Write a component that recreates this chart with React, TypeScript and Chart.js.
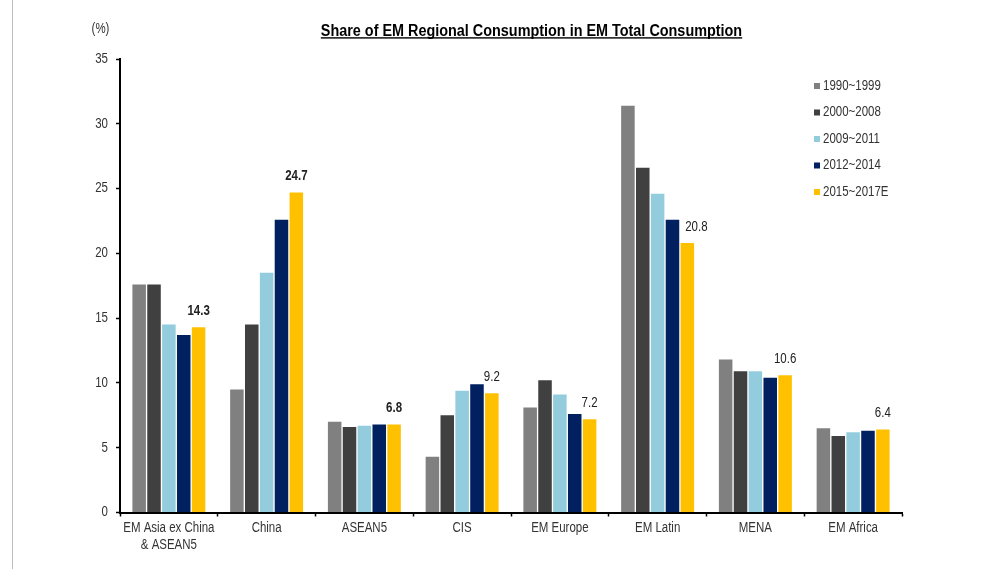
import { useEffect, useRef } from "react";
import { Chart, registerables } from "chart.js";

Chart.register(...registerables);

// Regions along the x axis
const categories: (string | string[])[] = [
  ["EM Asia ex China", "& ASEAN5"],
  "China",
  "ASEAN5",
  "CIS",
  "EM Europe",
  "EM Latin",
  "MENA",
  "EM Africa",
];

// Share of EM total consumption (%) by period
const share1990to1999 = [17.6, 9.5, 7.0, 4.3, 8.1, 31.4, 11.8, 6.5];
const share2000to2008 = [17.6, 14.5, 6.6, 7.5, 10.2, 26.6, 10.9, 5.9];
const share2009to2011 = [14.5, 18.5, 6.7, 9.4, 9.1, 24.6, 10.9, 6.2];
const share2012to2014 = [13.7, 22.6, 6.8, 9.9, 7.6, 22.6, 10.4, 6.3];
const share2015to2017E = [14.3, 24.7, 6.8, 9.2, 7.2, 20.8, 10.6, 6.4];

const periodLabels = ["1990~1999", "2000~2008", "2009~2011", "2012~2014", "2015~2017E"];
const periodColors = ["#808080", "#404040", "#93CDDD", "#002060", "#FFC000"];

// Regions whose latest value is printed in bold
const boldLabelCount = 3;

const yMin = 0;
const yMax = 35;
const yStep = 5;

const titleText = "Share of EM Regional Consumption in EM Total Consumption";
const unitText = "(%)";

// Arial-metric face, squeezed horizontally to a narrow cut
const FONT = "'Liberation Sans', Arial, sans-serif";
const NARROW = 0.82;
const TITLE_NARROW = 0.9;
const TEXT = "#333333";

function narrowText(
  ctx: CanvasRenderingContext2D,
  text: string,
  x: number,
  y: number,
  align: CanvasTextAlign,
  baseline: CanvasTextBaseline,
  font: string,
  color: string,
  squeeze: number = NARROW
) {
  ctx.save();
  ctx.font = font;
  ctx.fillStyle = color;
  ctx.textAlign = align;
  ctx.textBaseline = baseline;
  ctx.translate(x, y);
  ctx.scale(squeeze, 1);
  ctx.fillText(text, 0, 0);
  const w = ctx.measureText(text).width * squeeze;
  ctx.restore();
  return w;
}

const decorations = {
  id: "decorations",
  afterDraw(chart: Chart) {
    const ctx = chart.ctx;
    const xScale: any = chart.scales.x;
    const yScale: any = chart.scales.y;
    ctx.save();

    // page edge rule
    ctx.fillStyle = "#bdbdbd";
    ctx.fillRect(12, 0, 1, chart.height);

    // title with underline
    const tx = 531.5;
    const ty = 35.5;
    const tw = narrowText(ctx, titleText, tx, ty, "center", "alphabetic", `bold 16px ${FONT}`, "#000", TITLE_NARROW);
    ctx.fillStyle = "#000";
    ctx.fillRect(tx - tw / 2, ty + 1.7, tw, 1.4);

    // unit label
    narrowText(ctx, unitText, 100.5, 29, "center", "middle", `14px ${FONT}`, TEXT);

    // y tick labels
    yScale.ticks.forEach((t: any) => {
      const y = yScale.getPixelForValue(t.value);
      narrowText(ctx, String(t.value), yScale.right - 12, y, "right", "middle", `14px ${FONT}`, TEXT);
    });

    // category labels
    (chart.data.labels as (string | string[])[]).forEach((lab, i) => {
      const x = xScale.getPixelForTick(i);
      const lines = Array.isArray(lab) ? lab : [lab];
      lines.forEach((line, j) => {
        narrowText(ctx, line, x, 521.5 + j * 16.5, "center", "top", `14px ${FONT}`, TEXT);
      });
    });

    // legend
    const lx = 814;
    const ly = 86;
    const rowGap = 26.5;
    chart.data.datasets.forEach((ds, i) => {
      const y = ly + i * rowGap;
      ctx.fillStyle = ds.backgroundColor as string;
      ctx.fillRect(lx, y - 3, 6, 6);
      narrowText(ctx, ds.label as string, lx + 9, y, "left", "middle", `14px ${FONT}`, TEXT);
    });

    // value labels on the latest period
    const last = chart.data.datasets.length - 1;
    const meta = chart.getDatasetMeta(last);
    const values = chart.data.datasets[last].data as number[];
    const shiftX: Record<number, number> = { 5: 9 };
    meta.data.forEach((el: any, i: number) => {
      const font = `${i < boldLabelCount ? "bold " : ""}14px ${FONT}`;
      narrowText(ctx, values[i].toFixed(1), el.x + (shiftX[i] || 0), el.y - 16, "center", "middle", font, "#222");
    });

    ctx.restore();
  },
};

export default function App() {
  const canvasRef = useRef<HTMLCanvasElement | null>(null);

  useEffect(() => {
    if (!canvasRef.current) return;
    const series = [share1990to1999, share2000to2008, share2009to2011, share2012to2014, share2015to2017E];
    const chart = new Chart(canvasRef.current, {
      type: "bar",
      data: {
        labels: categories,
        datasets: series.map((data, i) => ({
          label: periodLabels[i],
          data,
          backgroundColor: periodColors[i],
          borderWidth: 0,
          categoryPercentage: 0.76,
          barPercentage: 0.91,
        })),
      },
      options: {
        responsive: false,
        animation: false,
        layout: { padding: { top: 59, right: 98, left: 0, bottom: 0 } },
        plugins: {
          legend: { display: false },
          title: { display: false },
          tooltip: { enabled: false },
        },
        scales: {
          x: {
            grid: {
              display: true,
              drawOnChartArea: false,
              drawTicks: true,
              tickLength: 4,
              tickColor: "#000",
              tickWidth: 1.5,
              offset: true,
            },
            border: { display: true, color: "#000", width: 2 },
            ticks: { display: false, autoSkip: false },
            afterFit(scale: any) {
              scale.height = 56.5;
            },
          },
          y: {
            min: yMin,
            max: yMax,
            grid: {
              display: true,
              drawOnChartArea: false,
              drawTicks: true,
              tickLength: 4,
              tickColor: "#000",
              tickWidth: 1.5,
            },
            border: { display: true, color: "#000", width: 2 },
            ticks: { display: false, stepSize: yStep },
            afterFit(scale: any) {
              scale.width = 120;
            },
          },
        },
      },
      plugins: [decorations],
    });
    return () => chart.destroy();
  }, []);

  return (
    <div style={{ position: "absolute", left: 0, top: 0, width: 1000, height: 569, background: "#fff" }}>
      <canvas ref={canvasRef} width={1000} height={569} style={{ display: "block" }} />
    </div>
  );
}
